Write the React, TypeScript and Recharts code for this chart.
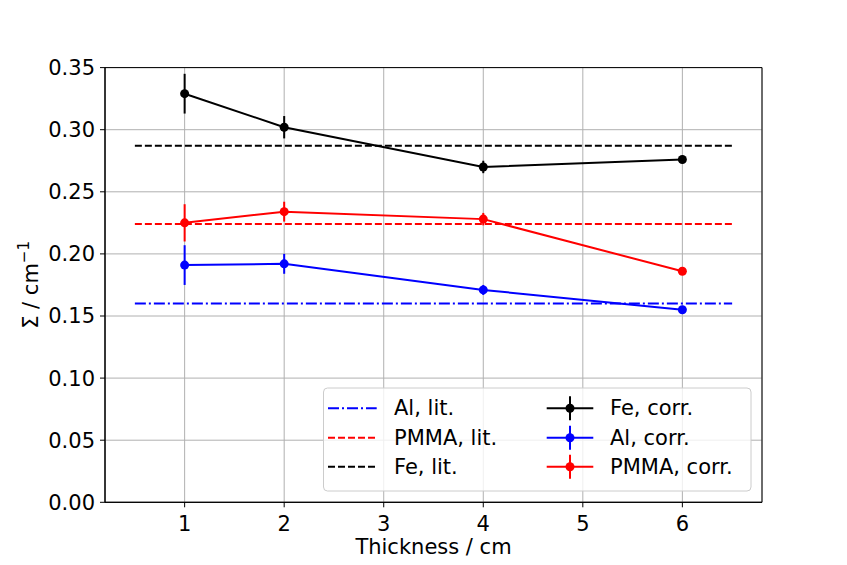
import React from "react";
import {
  ComposedChart,
  Line,
  XAxis,
  YAxis,
  CartesianGrid,
  ErrorBar,
  ReferenceArea,
} from "recharts";

// ---- data ----
const thickness = [1, 2, 4, 6];
const feCorr = [0.329, 0.302, 0.270, 0.276];
const feErr = [0.016, 0.009, 0.005, 0.003];
const alCorr = [0.191, 0.192, 0.171, 0.155];
const alErr = [0.016, 0.008, 0.004, 0.002];
const pmmaCorr = [0.225, 0.234, 0.228, 0.186];
const pmmaErr = [0.015, 0.008, 0.005, 0.002];

const litRange = [0.5, 6.5];
const alLit = 0.160;
const pmmaLit = 0.224;
const feLit = 0.287;

const xTicks = [1, 2, 3, 4, 5, 6];
const yTicks = [0, 0.05, 0.1, 0.15, 0.2, 0.25, 0.3, 0.35];
const xDomain = [0.2, 6.8];
const yDomain = [0, 0.35];

const legendLit = [
  { label: "Al, lit.", color: "#0000ff", dash: "11 3 2 3" },
  { label: "PMMA, lit.", color: "#ff0000", dash: "7 3" },
  { label: "Fe, lit.", color: "#000000", dash: "7 3" },
];
const legendCorr = [
  { label: "Fe, corr.", color: "#000000" },
  { label: "Al, corr.", color: "#0000ff" },
  { label: "PMMA, corr.", color: "#ff0000" },
];

const rows = thickness.map((x, i) => ({
  x,
  fe: feCorr[i],
  feErr: feErr[i],
  al: alCorr[i],
  alErr: alErr[i],
  pmma: pmmaCorr[i],
  pmmaErr: pmmaErr[i],
}));
const litData = (v: number) => litRange.map((x) => ({ x, y: v }));

const W = 847;
const H = 565;
const FONT = "DejaVu Sans";
const FS = 21;

const YLabel = (props: any) => {
  const vb = props.viewBox || {};
  const cy = vb.y + vb.height / 2;
  const x = 38;
  return (
    <text
      x={x}
      y={cy}
      transform={`rotate(-90, ${x}, ${cy})`}
      textAnchor="middle"
      fontSize={FS}
      fontFamily={FONT}
      fill="#000"
    >
      <tspan>Σ / cm</tspan>
      <tspan fontSize={15} dy={-9}>−1</tspan>
    </text>
  );
};

const XLabel = (props: any) => {
  const vb = props.viewBox || {};
  const cx = vb.x + vb.width / 2;
  return (
    <text x={cx} y={554} textAnchor="middle" fontSize={FS} fontFamily={FONT} fill="#000">
      Thickness / cm
    </text>
  );
};

const LegendBox = () => {
  const rowY = [408.3, 437.7, 466.7];
  return (
    <svg
      width={W}
      height={H}
      style={{ position: "absolute", left: 0, top: 0, pointerEvents: "none" }}
    >
      <rect
        x={323.5}
        y={388}
        width={427.5}
        height={103}
        rx={4}
        fill="#ffffff"
        fillOpacity={0.8}
        stroke="#cccccc"
        strokeWidth={1}
      />
      {legendLit.map((d, i) => (
        <g key={d.label}>
          <line x1={328} x2={376.7} y1={rowY[i]} y2={rowY[i]} stroke={d.color} strokeWidth={2} strokeDasharray={d.dash} />
          <text x={394} y={rowY[i]} dominantBaseline="central" fontSize={FS} fontFamily={FONT} fill="#000">
            {d.label}
          </text>
        </g>
      ))}
      {legendCorr.map((d, i) => (
        <g key={d.label}>
          <line x1={546.7} x2={593.3} y1={rowY[i]} y2={rowY[i]} stroke={d.color} strokeWidth={2} />
          <line x1={570} x2={570} y1={rowY[i] - 12} y2={rowY[i] + 12} stroke={d.color} strokeWidth={2} />
          <circle cx={570} cy={rowY[i]} r={4.5} fill={d.color} />
          <text x={610} y={rowY[i]} dominantBaseline="central" fontSize={FS} fontFamily={FONT} fill="#000">
            {d.label}
          </text>
        </g>
      ))}
    </svg>
  );
};

export default function App() {
  const tickStyle = { fontSize: FS, fontFamily: FONT, fill: "#000" };
  return (
    <div style={{ position: "relative", width: W, height: H, fontFamily: FONT, background: "#fff", overflow: "hidden" }}>
      <style>{`html,body{margin:0;padding:0;overflow:hidden;}`}</style>
      <ComposedChart
        width={W}
        height={H}
        data={rows}
        margin={{ top: 67.6, right: 85, left: 45, bottom: 22.7 }}
      >
        <CartesianGrid stroke="#b0b0b0" strokeWidth={1} />
        <XAxis
          type="number"
          dataKey="x"
          domain={xDomain}
          ticks={xTicks}
          allowDataOverflow
          height={40}
          tick={tickStyle}
          tickSize={5}
          tickMargin={9}
          tickLine={{ stroke: "#000" }}
          axisLine={{ stroke: "#000" }}
          label={<XLabel />}
        />
        <YAxis
          type="number"
          domain={yDomain}
          ticks={yTicks}
          allowDataOverflow
          width={60}
          tick={tickStyle}
          tickSize={5}
          tickMargin={5}
          tickLine={{ stroke: "#000" }}
          axisLine={{ stroke: "#000" }}
          tickFormatter={(v: number) => v.toFixed(2)}
          label={<YLabel />}
        />
        <ReferenceArea
          x1={xDomain[0]}
          x2={xDomain[1]}
          y1={yDomain[0]}
          y2={yDomain[1]}
          fill="none"
          fillOpacity={0}
          stroke="#000"
          strokeWidth={1}
          ifOverflow="visible"
        />
        <Line
          data={litData(alLit)}
          dataKey="y"
          stroke="#0000ff"
          strokeWidth={2}
          strokeDasharray="11 3 2 3"
          dot={false}
          activeDot={false}
          isAnimationActive={false}
        />
        <Line
          data={litData(pmmaLit)}
          dataKey="y"
          stroke="#ff0000"
          strokeWidth={2}
          strokeDasharray="7 3"
          dot={false}
          activeDot={false}
          isAnimationActive={false}
        />
        <Line
          data={litData(feLit)}
          dataKey="y"
          stroke="#000000"
          strokeWidth={2}
          strokeDasharray="7 3"
          dot={false}
          activeDot={false}
          isAnimationActive={false}
        />
        <Line
          dataKey="fe"
          stroke="#000000"
          strokeWidth={2}
          dot={{ r: 4.5, fill: "#000000", stroke: "#000000", strokeWidth: 0 }}
          activeDot={false}
          isAnimationActive={false}
        >
          <ErrorBar dataKey="feErr" direction="y" width={0} stroke="#000000" strokeWidth={2} isAnimationActive={false} />
        </Line>
        <Line
          dataKey="al"
          stroke="#0000ff"
          strokeWidth={2}
          dot={{ r: 4.5, fill: "#0000ff", stroke: "#0000ff", strokeWidth: 0 }}
          activeDot={false}
          isAnimationActive={false}
        >
          <ErrorBar dataKey="alErr" direction="y" width={0} stroke="#0000ff" strokeWidth={2} isAnimationActive={false} />
        </Line>
        <Line
          dataKey="pmma"
          stroke="#ff0000"
          strokeWidth={2}
          dot={{ r: 4.5, fill: "#ff0000", stroke: "#ff0000", strokeWidth: 0 }}
          activeDot={false}
          isAnimationActive={false}
        >
          <ErrorBar dataKey="pmmaErr" direction="y" width={0} stroke="#ff0000" strokeWidth={2} isAnimationActive={false} />
        </Line>
      </ComposedChart>
      <LegendBox />
    </div>
  );
}
